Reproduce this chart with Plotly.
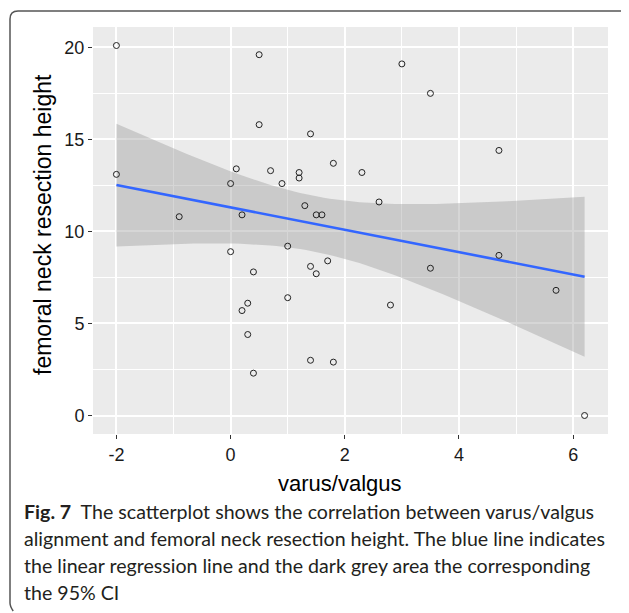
import numpy as np
import plotly.graph_objects as go

# ---- data ----
varus_valgus = [-2.0, 0.5, 0.5, 1.4, -2.0, 0.1, 0.7, 1.8, 1.2, 1.2,
                0.0, 0.9, -0.9, 0.2, 1.3, 1.5, 1.6, 2.3, 1.0, 0.0,
                3.0, 3.5, 4.7, 2.6, 0.4, 1.4, 1.5, 1.7, 1.0, 0.3,
                0.2, 0.3, 1.4, 1.8, 0.4, 4.7, 3.5, 2.8, 5.7, 6.2]
resection_height = [20.1, 19.6, 15.8, 15.3, 13.1, 13.4, 13.3, 13.7, 13.2, 12.9,
                    12.6, 12.6, 10.8, 10.9, 11.4, 10.9, 10.9, 13.2, 9.2, 8.9,
                    19.1, 17.5, 14.4, 11.6, 7.8, 8.1, 7.7, 8.4, 6.4, 6.1,
                    5.7, 4.4, 3.0, 2.9, 2.3, 8.7, 8.0, 6.0, 6.8, 0.0]
x_ticks = [-2, 0, 2, 4, 6]
x_tick_labels = ["-2", "0", "2", "4", "6"]
y_ticks = [0, 5, 10, 15, 20]
y_tick_labels = ["0", "5", "10", "15", "20"]
x_title = "varus/valgus"
y_title = "femoral neck resection height"
caption_lines = [
    "<b>Fig. 7</b>  The scatterplot shows the correlation between varus/valgus",
    "alignment and femoral neck resection height. The blue line indicates",
    "the linear regression line and the dark grey area the corresponding",
    "the 95% CI",
]

# ---- linear model with 95% CI (as geom_smooth(method='lm')) ----
xa = np.array(varus_valgus)
ya = np.array(resection_height)
n = len(xa)
b1, b0 = np.polyfit(xa, ya, 1)
resid = ya - (b0 + b1 * xa)
s2 = np.sum(resid ** 2) / (n - 2)
sxx = np.sum((xa - xa.mean()) ** 2)
xs = np.linspace(xa.min(), xa.max(), 80)
fit = b0 + b1 * xs
se = np.sqrt(s2 * (1.0 / n + (xs - xa.mean()) ** 2 / sxx))
t_crit = 2.024  # t(0.975, df = n - 2 = 38)
upper = fit + t_crit * se
lower = fit - t_crit * se

# ---- layout geometry (page has an 8px body margin) ----
OFF = 8
W, H = 629 - OFF, 613 - OFF
ML = 93 - OFF
MT = 27 - OFF
MR = W - (608 - OFF)
MB = H - (434 - OFF)
PW, PH = W - ML - MR, H - MT - MB


def px(xpage):
    return (xpage - OFF - ML) / PW


def py(ypage):
    return (H - MB - (ypage - OFF)) / PH


fig = go.Figure()
fig.add_trace(go.Scatter(x=xs, y=upper, mode="lines", line=dict(width=0),
                         hoverinfo="skip", showlegend=False))
fig.add_trace(go.Scatter(x=xs, y=lower, mode="lines", line=dict(width=0),
                         fill="tonexty", fillcolor="rgba(153,153,153,0.4)",
                         hoverinfo="skip", showlegend=False))
fig.add_trace(go.Scatter(x=xs, y=fit, mode="lines",
                         line=dict(color="#3366FF", width=2.6), showlegend=False))
fig.add_trace(go.Scatter(x=varus_valgus, y=resection_height, mode="markers",
                         marker=dict(symbol="circle-open", size=6,
                                     color="#222222", line=dict(width=1)),
                         showlegend=False))

xr = [min(varus_valgus), max(varus_valgus)]
yr = [min(resection_height), max(resection_height)]
xpad = 0.05 * (xr[1] - xr[0])
ypad = 0.05 * (yr[1] - yr[0])

axis_common = dict(
    showgrid=True, gridcolor="white", gridwidth=1.6,
    zeroline=False, showline=False,
    ticks="outside", ticklen=4, tickwidth=1, tickcolor="#333333",
    tickfont=dict(family="Liberation Sans", size=18, color="#1a1a1a"),
)
fig.update_xaxes(range=[xr[0] - xpad, xr[1] + xpad], tickvals=x_ticks,
                 ticktext=x_tick_labels,
                 minor=dict(dtick=1, tick0=-1, showgrid=True, gridcolor="white",
                            gridwidth=0.8, ticks=""),
                 **axis_common)
fig.update_yaxes(range=[yr[0] - ypad, yr[1] + ypad], tickvals=y_ticks,
                 ticktext=y_tick_labels,
                 minor=dict(dtick=2.5, tick0=0, showgrid=True, gridcolor="white",
                            gridwidth=0.8, ticks=""),
                 **axis_common)

annotations = [
    dict(text=x_title, x=px(340), y=py(483), xref="paper", yref="paper",
         showarrow=False, xanchor="center", yanchor="middle",
         font=dict(family="Liberation Sans", size=22, color="black")),
    dict(text=y_title, x=px(43), y=py(225), xref="paper", yref="paper",
         showarrow=False, xanchor="center", yanchor="middle", textangle=-90,
         font=dict(family="Liberation Sans", size=23, color="black")),
]
line_y = [511, 538, 565, 592]
for txt, yy in zip(caption_lines, line_y):
    annotations.append(dict(text=txt, x=px(22), y=py(yy), xref="paper", yref="paper",
                            showarrow=False, xanchor="left", yanchor="middle",
                            font=dict(family="Lato", size=19.6, color="#231F20")))

# figure frame (top and left edges with rounded corners)
x0, xt = px(10), px(627)
yt, yb = py(11), py(611)
rx, ry = 8 / PW, 8 / PH
frame = (f"M {x0 + rx * 0.4},{yb} Q {x0},{yb + ry * 0.6} {x0},{yb + ry} "
         f"L {x0},{yt - ry} Q {x0},{yt} {x0 + rx},{yt} "
         f"L {xt - rx * 0.3},{yt} Q {xt},{yt} {xt},{yt - ry * 0.4}")

fig.update_layout(
    width=W, height=H,
    margin=dict(l=ML, r=MR, t=MT, b=MB),
    paper_bgcolor="white", plot_bgcolor="#EBEBEB",
    annotations=annotations,
    shapes=[dict(type="path", path=frame, xref="paper", yref="paper",
                 line=dict(color="#555555", width=1.5))],
    showlegend=False,
)

fig.write_html("out.html")
